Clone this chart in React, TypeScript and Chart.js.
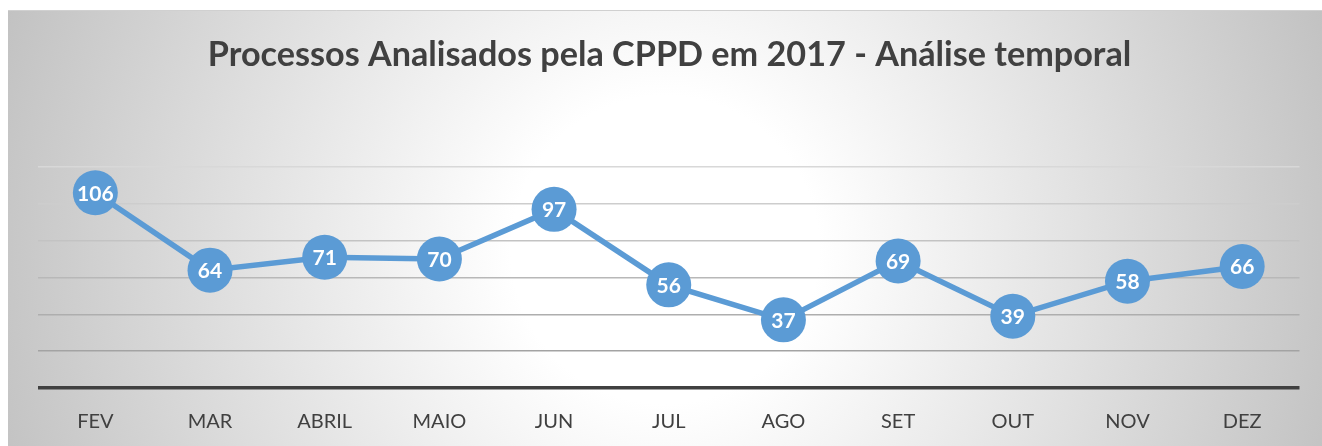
import React, { useEffect, useRef } from "react";
import { Chart, registerables } from "chart.js";

Chart.register(...registerables);

const TITLE = "Processos Analisados pela CPPD em 2017 - Análise temporal";
const CATEGORIES = ["FEV", "MAR", "ABRIL", "MAIO", "JUN", "JUL", "AGO", "SET", "OUT", "NOV", "DEZ"];
const VALUES = [106, 64, 71, 70, 97, 56, 37, 69, 39, 58, 66];
const Y_MIN = 0;
const Y_MAX = 120;
const Y_STEP = 20;

const FONT = "Lato, 'Open Sans', sans-serif";
const LINE_COLOR = "#5B9BD5";
const TEXT_COLOR = "#404040";
const GRID_COLORS = ["#404040", "#a3a3a3", "#aeaeae", "#b8b8b8", "#c3c3c3", "#cdcdcd", "#d8d8d8"];

const bgPlugin = {
  id: "bgPlugin",
  beforeDraw(chart: any) {
    const { ctx, width, height } = chart;
    ctx.save();
    const cx = width * 0.5;
    const cy = height * 0.55;
    const g = ctx.createRadialGradient(cx, cy, 0, cx, cy, Math.hypot(cx, cy));
    g.addColorStop(0, "#ffffff");
    g.addColorStop(0.22, "#ffffff");
    g.addColorStop(1, "#c2c2c2");
    ctx.fillStyle = g;
    ctx.fillRect(0, 0, width, height);
    ctx.strokeStyle = "#d0d0d0";
    ctx.lineWidth = 1;
    ctx.beginPath();
    ctx.moveTo(0, 0.5);
    ctx.lineTo(width, 0.5);
    ctx.stroke();
    // title
    let size = 32;
    ctx.font = `bold ${size}px ${FONT}`;
    const w = ctx.measureText(TITLE).width;
    size = size * (924 / w);
    ctx.font = `bold ${size}px ${FONT}`;
    ctx.fillStyle = TEXT_COLOR;
    ctx.textAlign = "center";
    ctx.textBaseline = "alphabetic";
    ctx.fillText(TITLE, 661.5, 55.7);
    ctx.restore();
  },
};

const labelPlugin = {
  id: "labelPlugin",
  afterDatasetsDraw(chart: any) {
    const { ctx } = chart;
    const meta = chart.getDatasetMeta(0);
    ctx.save();
    ctx.font = `bold 21px ${FONT}`;
    ctx.fillStyle = "#ffffff";
    ctx.textAlign = "center";
    ctx.textBaseline = "middle";
    meta.data.forEach((pt: any, i: number) => {
      ctx.fillText(String(VALUES[i]), pt.x, pt.y + 1);
    });
    ctx.restore();
  },
};

export default function App() {
  const ref = useRef<HTMLCanvasElement>(null);
  useEffect(() => {
    const chart = new Chart(ref.current!, {
      type: "line",
      data: {
        labels: CATEGORIES,
        datasets: [
          {
            data: VALUES,
            borderColor: LINE_COLOR,
            backgroundColor: LINE_COLOR,
            borderWidth: 5.5,
            pointRadius: 22.5,
            pointBackgroundColor: LINE_COLOR,
            pointBorderColor: LINE_COLOR,
            pointBorderWidth: 0,
            tension: 0,
            clip: false as any,
          },
        ],
      },
      options: {
        animation: false,
        responsive: false,
        layout: { padding: { left: 30, right: 20, top: 157, bottom: 0 } },
        plugins: { legend: { display: false }, title: { display: false }, tooltip: { enabled: false } },
        scales: {
          x: {
            offset: true,
            grid: { display: false, drawTicks: false },
            border: { display: false },
            ticks: { color: TEXT_COLOR, font: { family: FONT, size: 20 }, padding: 22 },
            afterFit: (s: any) => {
              s.height = 58;
            },
          },
          y: {
            min: Y_MIN,
            max: Y_MAX,
            ticks: { display: false, stepSize: Y_STEP },
            border: { display: false },
            grid: {
              drawTicks: false,
              color: (c: any) => GRID_COLORS[c.index] || "#cccccc",
              lineWidth: (c: any) => (c.index === 0 ? 3.5 : 1.5),
            },
            afterFit: (s: any) => {
              s.width = 0;
            },
          },
        },
      },
      plugins: [bgPlugin, labelPlugin],
    });
    return () => chart.destroy();
  }, []);
  return (
    <div style={{ position: "fixed", left: 8, top: 10, width: 1314, height: 436 }}>
      <canvas ref={ref} width={1314} height={436} style={{ display: "block" }} />
    </div>
  );
}
